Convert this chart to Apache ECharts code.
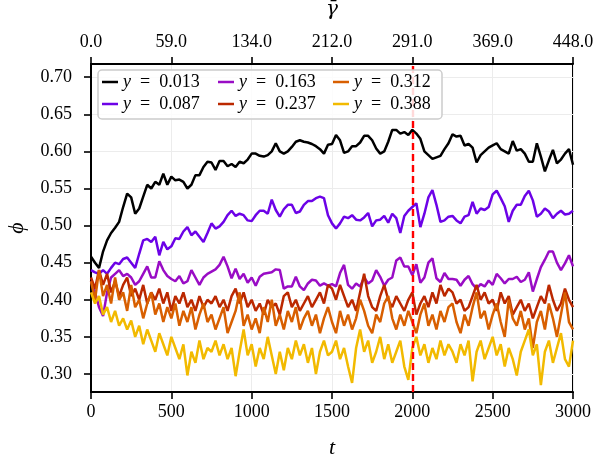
<!DOCTYPE html>
<html><head><meta charset="utf-8">
<script src="https://cdn.jsdelivr.net/npm/echarts@6/dist/echarts.min.js"></script>
<style>html,body{margin:0;padding:0;background:#fff}#c{width:595px;height:461px}</style>
</head><body><div id="c"></div>
<script>
// ---- data ----
const dt = 25; // sampling step of t
const xTicks = [0, 500, 1000, 1500, 2000, 2500, 3000];
const gammaLabels = ['0.0', '59.0', '134.0', '212.0', '291.0', '369.0', '448.0'];
const yTicks = [0.30, 0.35, 0.40, 0.45, 0.50, 0.55, 0.60, 0.65, 0.70];
const seriesNames = ['0.013', '0.087', '0.163', '0.237', '0.312', '0.388'];
const dashedT = 2000;

const phi_0013 = [
0.458,0.450,0.443,0.465,0.480,0.490,0.497,0.505,0.525,0.543,0.538,0.516,0.523,0.539,0.555,0.550,0.559,0.555,0.570,0.555,0.566,0.561,0.562,0.559,0.550,0.555,0.568,0.568,0.579,0.586,
0.585,0.575,0.587,0.587,0.580,0.583,0.579,0.586,0.584,0.589,0.597,0.597,0.594,0.593,0.595,0.600,0.611,0.600,0.597,0.600,0.606,0.613,0.615,0.613,0.612,0.610,0.607,0.603,0.597,0.609,
0.610,0.622,0.615,0.598,0.600,0.607,0.607,0.612,0.621,0.621,0.615,0.604,0.597,0.600,0.613,0.629,0.629,0.624,0.626,0.622,0.629,0.624,0.617,0.600,0.595,0.590,0.592,0.594,0.603,0.611,
0.623,0.620,0.621,0.608,0.610,0.605,0.585,0.595,0.600,0.605,0.608,0.611,0.603,0.600,0.597,0.614,0.601,0.603,0.597,0.586,0.586,0.611,0.593,0.573,0.588,0.602,0.584,0.589,0.597,0.603,0.582];
const phi_0087 = [
0.440,0.437,0.435,0.440,0.435,0.443,0.450,0.448,0.455,0.457,0.450,0.443,0.462,0.480,0.482,0.478,0.485,0.460,0.478,0.468,0.472,0.483,0.482,0.492,0.498,0.487,0.492,0.485,0.478,0.490,
0.503,0.496,0.499,0.505,0.514,0.520,0.513,0.516,0.514,0.507,0.506,0.514,0.520,0.520,0.516,0.535,0.521,0.512,0.522,0.528,0.528,0.517,0.519,0.528,0.533,0.533,0.537,0.539,0.537,0.514,
0.503,0.496,0.503,0.512,0.510,0.514,0.508,0.507,0.511,0.517,0.499,0.507,0.508,0.513,0.504,0.516,0.510,0.490,0.513,0.520,0.525,0.530,0.498,0.516,0.538,0.548,0.528,0.505,0.507,0.512,
0.513,0.507,0.503,0.512,0.514,0.532,0.516,0.523,0.521,0.525,0.542,0.547,0.537,0.526,0.505,0.520,0.528,0.528,0.540,0.547,0.534,0.512,0.516,0.523,0.519,0.510,0.516,0.520,0.515,0.516,0.520];
const phi_0163 = [
0.425,0.410,0.390,0.378,0.410,0.430,0.435,0.440,0.432,0.435,0.430,0.420,0.425,0.435,0.445,0.430,0.430,0.452,0.440,0.432,0.428,0.425,0.432,0.422,0.425,0.440,0.430,0.420,0.430,0.435,
0.438,0.441,0.447,0.458,0.445,0.429,0.442,0.428,0.435,0.423,0.430,0.419,0.431,0.435,0.436,0.437,0.441,0.440,0.415,0.418,0.418,0.431,0.418,0.413,0.422,0.427,0.426,0.419,0.422,0.419,
0.421,0.418,0.436,0.447,0.420,0.415,0.422,0.418,0.430,0.422,0.426,0.440,0.431,0.419,0.427,0.430,0.453,0.457,0.445,0.445,0.433,0.448,0.423,0.430,0.450,0.456,0.429,0.424,0.436,0.428,
0.428,0.427,0.419,0.427,0.432,0.421,0.415,0.421,0.418,0.426,0.420,0.435,0.429,0.422,0.428,0.428,0.431,0.424,0.427,0.437,0.411,0.428,0.444,0.454,0.465,0.465,0.450,0.440,0.449,0.460,0.445];
const phi_0237 = [
0.430,0.415,0.440,0.420,0.435,0.410,0.425,0.405,0.420,0.430,0.405,0.415,0.400,0.420,0.395,0.410,0.400,0.415,0.395,0.410,0.385,0.405,0.395,0.410,0.390,0.400,0.385,0.405,0.390,0.400,
0.395,0.405,0.390,0.400,0.385,0.405,0.415,0.395,0.410,0.390,0.400,0.385,0.395,0.380,0.400,0.390,0.395,0.380,0.405,0.410,0.390,0.400,0.385,0.395,0.405,0.390,0.400,0.410,0.395,0.420,
0.415,0.400,0.420,0.405,0.390,0.400,0.385,0.410,0.435,0.405,0.390,0.385,0.405,0.420,0.400,0.390,0.405,0.395,0.385,0.400,0.410,0.380,0.395,0.405,0.390,0.410,0.395,0.420,0.405,0.415,
0.410,0.395,0.400,0.385,0.390,0.405,0.420,0.400,0.410,0.395,0.400,0.385,0.410,0.395,0.405,0.380,0.390,0.400,0.385,0.395,0.375,0.390,0.405,0.395,0.420,0.400,0.385,0.395,0.415,0.400,0.390];
const phi_0312 = [
0.425,0.400,0.440,0.405,0.420,0.395,0.430,0.400,0.410,0.385,0.420,0.390,0.400,0.375,0.395,0.410,0.380,0.395,0.370,0.390,0.375,0.395,0.365,0.385,0.370,0.390,0.360,0.380,0.395,0.370,
0.380,0.360,0.375,0.390,0.355,0.370,0.385,0.410,0.365,0.380,0.360,0.375,0.355,0.390,0.370,0.400,0.365,0.380,0.360,0.385,0.370,0.390,0.360,0.375,0.385,0.365,0.380,0.355,0.375,0.390,
0.370,0.355,0.385,0.365,0.380,0.360,0.375,0.400,0.385,0.365,0.355,0.380,0.370,0.395,0.405,0.375,0.360,0.380,0.365,0.385,0.370,0.355,0.380,0.395,0.365,0.380,0.360,0.385,0.370,0.390,
0.395,0.370,0.355,0.380,0.365,0.390,0.410,0.375,0.385,0.360,0.380,0.395,0.370,0.350,0.400,0.375,0.365,0.385,0.360,0.375,0.335,0.370,0.385,0.360,0.395,0.375,0.350,0.380,0.410,0.370,0.360];
const phi_0388 = [
0.410,0.395,0.405,0.380,0.390,0.370,0.385,0.365,0.375,0.360,0.372,0.350,0.365,0.340,0.360,0.345,0.330,0.355,0.340,0.325,0.350,0.335,0.320,0.340,0.298,0.330,0.315,0.345,0.320,0.335,
0.330,0.345,0.325,0.340,0.320,0.335,0.297,0.330,0.360,0.325,0.340,0.310,0.335,0.320,0.350,0.325,0.300,0.330,0.305,0.335,0.320,0.345,0.325,0.340,0.315,0.335,0.300,0.330,0.345,0.325,
0.330,0.345,0.320,0.335,0.310,0.288,0.335,0.360,0.330,0.345,0.315,0.330,0.350,0.320,0.340,0.315,0.330,0.345,0.310,0.292,0.335,0.350,0.325,0.340,0.315,0.335,0.320,0.345,0.325,0.340,
0.330,0.315,0.340,0.325,0.345,0.290,0.330,0.345,0.320,0.335,0.350,0.325,0.340,0.310,0.335,0.320,0.298,0.330,0.345,0.360,0.325,0.340,0.285,0.330,0.345,0.315,0.335,0.355,0.320,0.310,0.345];

const allPhi = [phi_0013, phi_0087, phi_0163, phi_0237, phi_0312, phi_0388];
const colors = ['#000000', '#6c02e7', '#990cc5', '#bb2800', '#d85f00', '#f2ba00'];

// ---- chart ----
const FONT = 'Liberation Serif';
const chart = echarts.init(document.getElementById('c'), null, {renderer: 'canvas'});

const series = allPhi.map((arr, k) => ({
  name: seriesNames[k],
  type: 'line',
  data: arr.map((v, i) => [i * dt, v]),
  showSymbol: false,
  symbol: 'none',
  lineStyle: {color: colors[k], width: 2.5},
  itemStyle: {color: colors[k]},
  color: colors[k],
  animation: false,
  z: 2 + k * 0.01,
  markLine: k === allPhi.length - 1 ? {
    silent: true, symbol: ['none', 'none'], label: {show: false}, animation: false,
    lineStyle: {color: '#ff0000', type: [7, 4], width: 2.4},
    data: [{xAxis: dashedT}]
  } : undefined
}));

// legend layout: matplotlib ncol=3, column-major
const colX = [102, 218, 333];
const rowY = [73, 95];
const legends = seriesNames.map((n, k) => ({
  data: [n],
  left: colX[Math.floor(k / 2)],
  top: rowY[k % 2],
  orient: 'horizontal',
  icon: 'rect',
  itemWidth: 16,
  itemHeight: 2.5,
  padding: 0,
  selectedMode: false,
  z: 20,
  formatter: name => '{i|y}{e|=}{n|' + name + '}',
  textStyle: {
    fontFamily: FONT, fontSize: 18, color: '#000',
    rich: {
      i: {fontFamily: FONT, fontStyle: 'italic', fontSize: 18},
      e: {fontFamily: FONT, fontSize: 18, padding: [0, 9, 0, 9]},
      n: {fontFamily: FONT, fontSize: 18}
    }
  }
}));

const tickFont = {fontFamily: FONT, fontSize: 18, color: '#000'};

const option = {
  animation: false,
  backgroundColor: '#fff',
  grid: {left: 91, right: 22, top: 64, bottom: 69, outerBoundsMode: 'none', containLabel: false,
         show: true, borderColor: '#000', borderWidth: 2, backgroundColor: 'transparent'},
  graphic: [{
    type: 'rect', z: 15, silent: true,
    shape: {x: 98, y: 70, width: 344, height: 49, r: 4},
    style: {fill: 'rgba(255,255,255,0.85)', stroke: '#cccccc', lineWidth: 1.5}
  }],
  legend: legends,
  xAxis: [{
    type: 'value', position: 'bottom', min: 0, max: 3000, interval: 500,
    name: 't', nameLocation: 'middle', nameGap: 45,
    nameTextStyle: {fontFamily: FONT, fontStyle: 'italic', fontSize: 22, color: '#000'},
    axisLine: {show: true, lineStyle: {color: '#000', width: 2}},
    axisTick: {show: true, length: 7, lineStyle: {color: '#000', width: 1.6}},
    axisLabel: Object.assign({margin: 11, formatter: v => String(v)}, tickFont),
    splitLine: {show: true, lineStyle: {color: '#ececec', width: 1}}
  }, {
    type: 'value', position: 'top', min: 0, max: 3000, interval: 500,
    name: 'γ\u0304', nameLocation: 'middle', nameGap: 44,
    nameTextStyle: {fontFamily: 'DejaVu Serif', fontStyle: 'italic', fontSize: 20, color: '#000'},
    axisLine: {show: true, lineStyle: {color: '#000', width: 2}},
    axisTick: {show: true, length: 7, lineStyle: {color: '#000', width: 1.6}},
    axisLabel: Object.assign({margin: 13, formatter: v => gammaLabels[xTicks.indexOf(v)] || ''}, tickFont),
    splitLine: {show: false}
  }],
  yAxis: {
    type: 'value', min: 0.2757, max: 0.7178, splitNumber: 9,
    name: 'ϕ', nameLocation: 'middle', nameGap: 63, nameRotate: 90,
    nameTextStyle: {fontFamily: FONT, fontStyle: 'italic', fontSize: 22, color: '#000'},
    axisLine: {show: true, lineStyle: {color: '#000', width: 2}},
    axisTick: {show: true, length: 7, customValues: yTicks, lineStyle: {color: '#000', width: 1.6}},
    axisLabel: Object.assign({margin: 19, customValues: yTicks, formatter: v => v.toFixed(2)}, tickFont),
    splitLine: {show: true, lineStyle: {color: '#ececec', width: 1}}
  },
  series: series
};
chart.setOption(option);
</script>
</body></html>
